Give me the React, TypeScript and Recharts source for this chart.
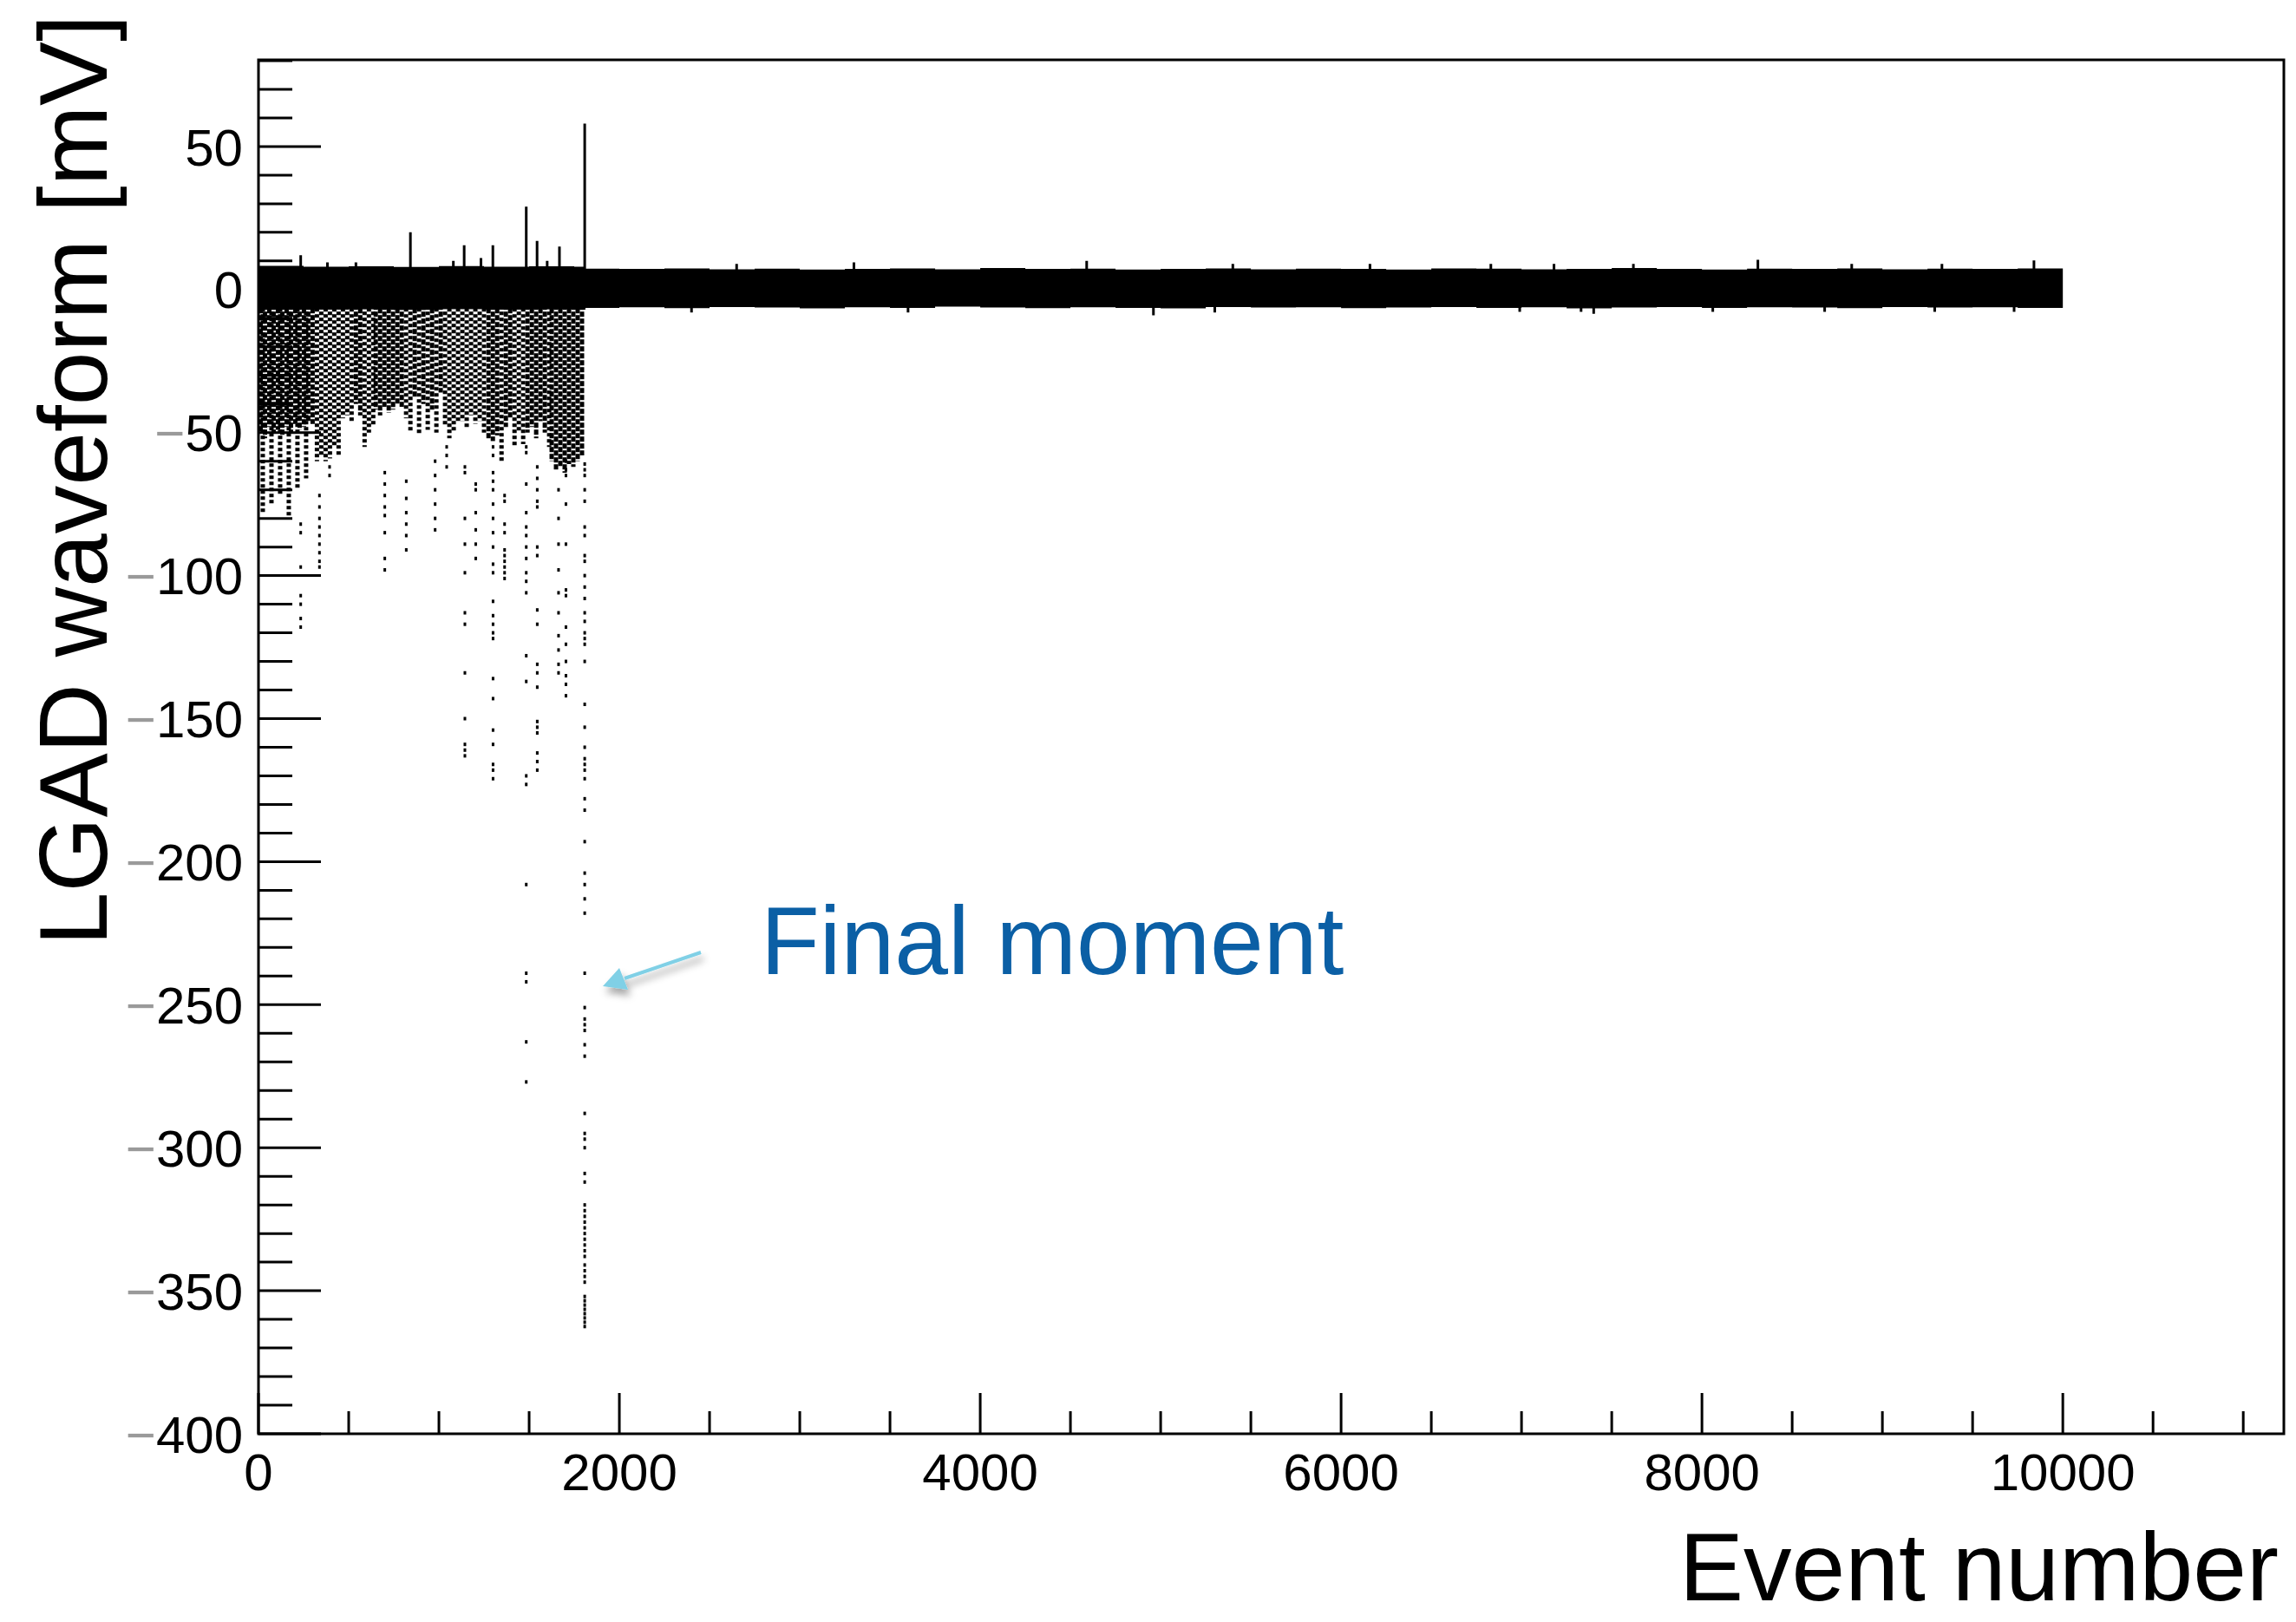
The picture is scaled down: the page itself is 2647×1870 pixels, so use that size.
import React from 'react';
import {
  ComposedChart,
  Area,
  Line,
  Scatter,
  XAxis,
  YAxis,
  ReferenceArea,
} from 'recharts';

// ---- axes ---------------------------------------------------------------
const X_MAX = 11225;
const Y_MIN = -400;
const Y_MAX = 80.3;

const X_TICKS = [
  0, 500, 1000, 1500, 2000, 2500, 3000, 3500, 4000, 4500, 5000, 5500, 6000,
  6500, 7000, 7500, 8000, 8500, 9000, 9500, 10000, 10500, 11000,
];
const Y_TICKS = [
  -400, -390, -380, -370, -360, -350, -340, -330, -320, -310, -300, -290,
  -280, -270, -260, -250, -240, -230, -220, -210, -200, -190, -180, -170,
  -160, -150, -140, -130, -120, -110, -100, -90, -80, -70, -60, -50, -40,
  -30, -20, -10, 0, 10, 20, 30, 40, 50, 60, 70, 80,
];

// ---- baseline noise band (event number, low, high) ----------------------
const BAND_EVENTS = [
  0, 250, 500, 750, 1000, 1250, 1500, 1750, 1812, 2000, 2250, 2500, 2750,
  3000, 3250, 3500, 3750, 4000, 4250, 4500, 4750, 5000, 5250, 5500, 5750,
  6000, 6250, 6500, 6750, 7000, 7250, 7500, 7750, 8000, 8250, 8500, 8750,
  9000, 9250, 9500, 9750, 10000,
];
const BAND_HIGH = [
  8.3, 8.0, 8.1, 7.9, 8.2, 8.0, 8.1, 8.0, 7.3, 7.2, 7.4, 7.1, 7.3, 7.0, 7.2,
  7.4, 7.1, 7.5, 7.2, 7.3, 7.0, 7.2, 7.4, 7.1, 7.3, 7.2, 7.0, 7.4, 7.3, 7.1,
  7.2, 7.5, 7.2, 7.0, 7.3, 7.2, 7.4, 7.1, 7.3, 7.2, 7.4, 7.4,
];
const BAND_LOW = [
  -6.8, -7.0, -6.9, -7.1, -6.8, -7.0, -6.9, -7.0, -6.4, -6.2, -6.5, -6.1,
  -6.3, -6.6, -6.2, -6.4, -6.0, -6.3, -6.5, -6.2, -6.4, -6.6, -6.1, -6.3,
  -6.2, -6.5, -6.3, -6.1, -6.4, -6.2, -6.6, -6.3, -6.1, -6.4, -6.2, -6.3,
  -6.5, -6.1, -6.3, -6.2, -6.4, -6.4,
];

// spikes above the band and dips below it
const SPIKE_EVENTS = [
  234, 382, 540, 842, 1080, 1140, 1233, 1299, 1484, 1544, 1600, 1668, 1808,
  2650, 3300, 4590, 5400, 6160, 6830, 7180, 7620, 8310, 8830, 9330, 9840,
];
const SPIKE_TOPS = [
  12, 9.5, 9.5, 20, 10, 15.5, 11, 15.5, 29, 17, 10, 15, 58, 9, 9.5, 10, 9, 9,
  9, 9, 9, 10.4, 9, 9, 10.2,
];
const DIP_EVENTS = [2400, 3600, 4960, 5300, 6990, 7330, 7400, 8060, 8680, 9290, 9730];
const DIP_BOTTOMS = [-8, -8, -9, -8, -7.8, -7.8, -8.5, -7.8, -7.8, -7.8, -7.8];

// dotted sample columns below the band, before the sensor died: [event, deepest mV]
const COLUMN_TOP = -6.5;
const DENSE_COLUMNS: [number, number][] = [
  [12, -50], [36, -52], [60, -48], [84, -50], [108, -49], [132, -51],
  [156, -48], [180, -50], [204, -47], [228, -49], [252, -48], [276, -46],
  [300, -47], [540, -40], [564, -44], [650, -42], [674, -44], [698, -41],
  [722, -43], [746, -42], [770, -40], [794, -41], [866, -38], [914, -40],
  [962, -42], [1010, -36], [1275, -52], [1299, -53], [1323, -51],
  [1371, -48], [1395, -45], [1491, -50], [1515, -48], [1539, -52],
  [1563, -46], [1587, -50], [1625, -60], [1649, -63], [1673, -62],
  [1697, -64], [1721, -61], [1745, -62], [1769, -60], [1793, -58],
];
const LIGHT_COLUMNS: [number, number][] = [
  [24, -78], [72, -75], [120, -72], [168, -80], [216, -70], [264, -66],
  [324, -60], [348, -58], [372, -60], [396, -59], [420, -55], [444, -58],
  [468, -45], [492, -44], [516, -46], [588, -55], [612, -50], [636, -48],
  [818, -45], [842, -50], [890, -51], [938, -49], [986, -50], [1034, -48],
  [1058, -52], [1082, -50], [1106, -46], [1130, -46], [1154, -48],
  [1178, -44], [1202, -47], [1226, -46], [1250, -50], [1347, -60],
  [1419, -55], [1443, -50], [1467, -54], [1611, -55],
];

// isolated samples of the deep pulses: [event, values in mV]
const TAIL_DOTS: [number, number[]][] = [
  [234, [-82, -85, -97, -107, -110, -115, -118]],
  [338, [-72, -76, -80, -83, -86, -89, -92, -95, -97]],
  [394, [-62, -65]],
  [700, [-64, -68, -72, -76, -79, -85, -94, -98]],
  [819, [-67, -73, -78, -82, -86, -91]],
  [979, [-60, -65, -70, -75, -80, -84]],
  [1043, [-55, -58, -62]],
  [1144, [-62, -64, -80, -89, -99, -113, -117, -134, -150, -159, -161, -163]],
  [1204, [-68, -70, -78, -84, -89, -94]],
  [1300, [-55, -58, -64, -67, -70, -75, -80, -85, -90, -96, -99, -109, -114, -117, -120, -122, -136, -143, -154, -159, -166, -168, -171]],
  [1364, [-72, -74, -82, -85, -91, -93, -95, -97, -99, -101]],
  [1484, [-55, -57, -68, -78, -83, -86, -90, -94, -99, -102, -106, -128, -137, -170, -173, -208, -239, -242, -263, -277]],
  [1545, [-62, -66, -70, -74, -76, -90, -93, -112, -117, -131, -134, -139, -151, -153, -155, -162, -165, -168]],
  [1663, [-70, -80, -89, -98, -106, -113, -121, -126, -131, -134]],
  [1704, [-60, -63, -65, -75, -89, -105, -107, -118, -124, -130, -135, -138, -142]],
];

// the last event before breakdown
const FINAL_EVENT = 1808;
const FINAL_DOTS = [
  -61, -63, -65, -70, -74, -83, -86, -93, -95, -100, -104, -108, -113, -116,
  -120, -122, -124, -130, -145, -153, -160, -164, -166, -168, -171, -178,
  -182, -193, -204, -208, -213, -218, -239, -251, -255, -257, -259, -264,
  -268, -288, -295, -297, -300, -309, -312, -320, -322, -324, -326, -328,
  -330, -332, -334, -336, -338, -341, -343, -345, -347, -352, -353.5, -355,
  -356.5, -358, -359.5, -361, -362.5,
];

// ---- tables for recharts -------------------------------------------------
type Pt = { x: number; y: number | null };

function toSegments(events: number[], lows: number[], highs: number[]): Pt[] {
  const rows: Pt[] = [];
  events.forEach((e, i) => {
    rows.push({ x: e, y: highs[i] }, { x: e, y: lows[i] }, { x: e, y: null });
  });
  return rows;
}

function columnSegments(cols: [number, number][], parity: number): Pt[] {
  const pick = cols.filter((_, i) => i % 2 === parity);
  return toSegments(
    pick.map((c) => c[0]),
    pick.map((c) => c[1]),
    pick.map(() => COLUMN_TOP),
  );
}

const bandData = BAND_EVENTS.map((x, i) => ({ x, low: BAND_LOW[i], high: BAND_HIGH[i] }));

const spikeData = [
  ...toSegments(SPIKE_EVENTS, SPIKE_EVENTS.map(() => 6.5), SPIKE_TOPS),
  ...toSegments(DIP_EVENTS, DIP_BOTTOMS, DIP_EVENTS.map(() => -5.5)),
];

const columnLayers = [
  { data: columnSegments(DENSE_COLUMNS, 0), width: 5, dash: '6 2', offset: 0 },
  { data: columnSegments(DENSE_COLUMNS, 1), width: 5, dash: '6 2', offset: 4 },
  { data: columnSegments(LIGHT_COLUMNS, 0), width: 5, dash: '4 3', offset: 0 },
  { data: columnSegments(LIGHT_COLUMNS, 1), width: 5, dash: '4 3', offset: 3 },
];

const dotData = [
  ...TAIL_DOTS.flatMap(([x, ys]) => ys.map((y) => ({ x, y }))),
  ...FINAL_DOTS.map((y) => ({ x: FINAL_EVENT, y })),
];

// ---- drawing helpers -----------------------------------------------------
const FONT = '"Liberation Sans", Arial, Helvetica, sans-serif';
const AXIS_BOX = 100; // room reserved for each axis inside the margins

function YTick(props: any) {
  const { x, y, payload } = props;
  const v: number = payload.value;
  const major = v % 50 === 0;
  return (
    <g>
      <line x1={x} x2={x + (major ? 72 : 39)} y1={y} y2={y} stroke="#000" strokeWidth={3} />
      {major && (
        <text x={x - 18} y={y} dy="0.36em" textAnchor="end" fontSize={60} fontFamily={FONT} fill="#000">
          {v < 0 && <tspan fill="#9a9a9a">−</tspan>}
          {Math.abs(v)}
        </text>
      )}
    </g>
  );
}

function XTick(props: any) {
  const { x, y, payload } = props;
  const v: number = payload.value;
  const major = v % 2000 === 0;
  return (
    <g>
      <line x1={x} x2={x} y1={y} y2={y - (major ? 47 : 26)} stroke="#000" strokeWidth={3} />
      {major && (
        <text x={x} y={y + 65} textAnchor="middle" fontSize={60} fontFamily={FONT} fill="#000">
          {v}
        </text>
      )}
    </g>
  );
}

export default function App() {
  return (
    <div style={{ position: 'absolute', left: 0, top: 0, width: 2647, height: 1870, background: '#fff' }}>
      <ComposedChart
        width={2647}
        height={1870}
        data={bandData}
        margin={{ top: 69, right: 14, bottom: 217 - AXIS_BOX, left: 298 - AXIS_BOX }}
      >
        <XAxis
          dataKey="x"
          type="number"
          domain={[0, X_MAX]}
          ticks={X_TICKS}
          interval={0}
          height={AXIS_BOX}
          tickSize={0}
          tickMargin={0}
          axisLine={false}
          tickLine={false}
          tick={(p: any) => <XTick {...p} />}
          allowDataOverflow
        />
        <YAxis
          type="number"
          domain={[Y_MIN, Y_MAX]}
          ticks={Y_TICKS}
          interval={0}
          width={AXIS_BOX}
          tickSize={0}
          tickMargin={0}
          axisLine={false}
          tickLine={false}
          tick={(p: any) => <YTick {...p} />}
          allowDataOverflow
        />

        {columnLayers.map((layer, i) => (
          <Line
            key={`col-${i}`}
            data={layer.data}
            dataKey="y"
            stroke="#000"
            strokeWidth={layer.width}
            strokeDasharray={layer.dash}
            strokeDashoffset={layer.offset}
            dot={false}
            activeDot={false}
            connectNulls={false}
            isAnimationActive={false}
          />
        ))}
        <Area
          dataKey={(d: any) => [d.low, d.high]}
          type="stepAfter"
          stroke="none"
          fill="#000"
          fillOpacity={1}
          isAnimationActive={false}
        />
        <Line
          data={spikeData}
          dataKey="y"
          stroke="#000"
          strokeWidth={3}
          dot={false}
          activeDot={false}
          connectNulls={false}
          isAnimationActive={false}
        />
        <Scatter
          data={dotData}
          dataKey="y"
          fill="#000"
          isAnimationActive={false}
          shape={(p: any) => <rect x={p.cx - 1.5} y={p.cy - 2} width={3} height={4} fill="#000" />}
        />

        <ReferenceArea
          x1={0}
          x2={X_MAX}
          y1={Y_MIN}
          y2={Y_MAX}
          fill="none"
          stroke="#000"
          strokeWidth={3}
          ifOverflow="visible"
        />
      </ComposedChart>

      <svg
        width={2647}
        height={1870}
        style={{ position: 'absolute', left: 0, top: 0, pointerEvents: 'none' }}
      >
        <defs>
          <filter id="arrowShadow" x="-30%" y="-30%" width="160%" height="180%">
            <feDropShadow dx="3" dy="7" stdDeviation="4" floodColor="#000" floodOpacity="0.35" />
          </filter>
        </defs>
        <text
          x={123}
          y={17}
          transform="rotate(-90 123 17)"
          textAnchor="end"
          fontSize={111}
          fontFamily={FONT}
          fill="#000"
        >
          LGAD waveform [mV]
        </text>
        <text x={2627} y={1845} textAnchor="end" fontSize={111} fontFamily={FONT} fill="#000">
          Event number
        </text>
        <text x={877} y={1123} fontSize={111} fontFamily={FONT} fill="#0b5fa5">
          Final moment
        </text>
        <g filter="url(#arrowShadow)">
          <line x1={808} y1={1098} x2={720} y2={1128} stroke="#80d0e6" strokeWidth={4} />
          <polygon points="695,1137 714,1116 724,1141" fill="#80d0e6" />
        </g>
      </svg>
    </div>
  );
}
